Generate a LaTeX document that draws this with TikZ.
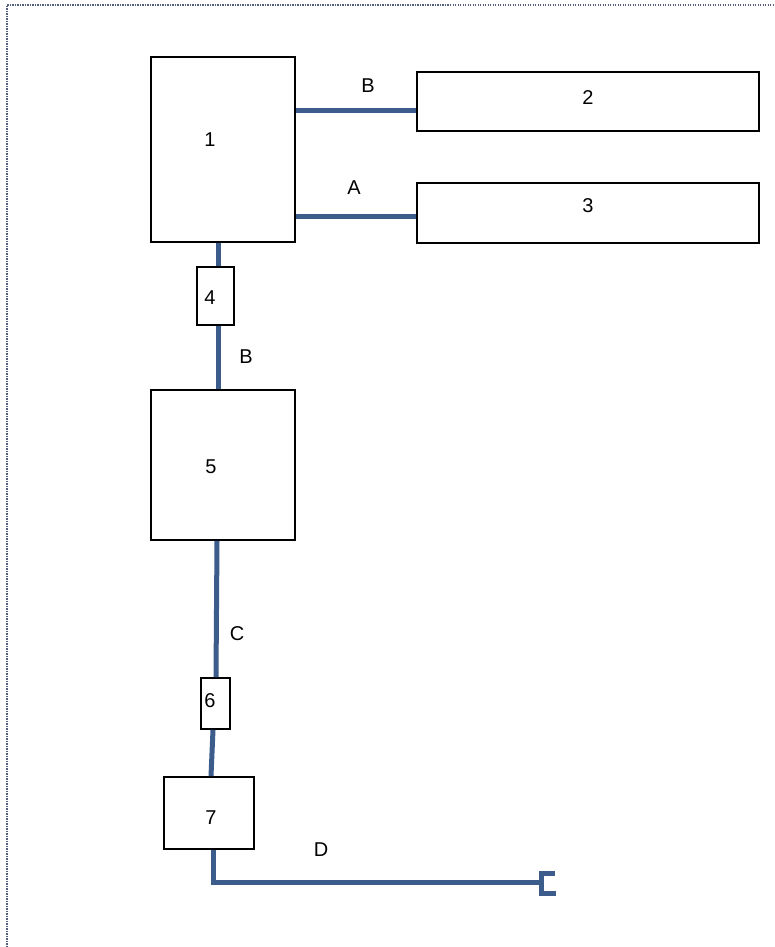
\documentclass[tikz,border=0pt]{standalone}
\usepackage{fontspec}
\setmainfont{Liberation Sans}
\usetikzlibrary{calc}
\definecolor{conn}{RGB}{60,92,140}
\definecolor{frame}{RGB}{85,95,125}
\tikzset{
  box/.style={draw=black, line width=1.8pt, fill=white, inner sep=0pt, rectangle},
  pipe/.style={draw=conn, line width=5pt},
  lbl/.style={inner sep=0pt, font=\fontsize{20}{24}\selectfont},
}
\begin{document}
\begin{tikzpicture}[x=1pt,y=-1pt]
\path[use as bounding box] (0,0) rectangle (774,947);
\draw[frame, line width=1.3pt, dash pattern=on 1.3pt off 1.2pt] (7,947) -- (7,5) -- (774,5);
% boxes
\node[box, minimum width=144pt, minimum height=185pt] (b1) at (223,149.5) {};
\node[box, minimum width=342pt, minimum height=59pt] (b2) at (588,101.5) {};
\node[box, minimum width=342pt, minimum height=60pt] (b3) at (588,213) {};
\node[box, minimum width=37pt, minimum height=58pt] (b4) at (215.5,296) {};
\node[box, minimum width=144pt, minimum height=150pt] (b5) at (223,465) {};
\node[box, minimum width=29pt, minimum height=51pt] (b6) at (215.5,703.5) {};
\node[box, minimum width=90pt, minimum height=72pt] (b7) at (209,813) {};
% connectors
\draw[pipe] (b1.east |- 0,111) -- (b2.west |- 0,111);
\draw[pipe] (b1.east |- 0,216) -- (b3.west |- 0,216);
\draw[pipe] (b1.south -| 218,0) -- (b4.north -| 218,0);
\draw[pipe] (b4.south -| 218,0) -- (b5.north -| 218,0);
\draw[pipe] (b5.south -| 217,0) -- (b6.north -| 216,0);
\draw[pipe] (b6.south -| 213,0) -- (b7.north -| 211,0);
\coordinate (endD) at (541,882);
\draw[pipe, line join=miter] (b7.south -| 213,0) -- (213,882) -- (endD);
\draw[pipe, line join=miter] (555,873) -- (541,873) -- (541,893) -- (556,893);
% labels
\node[lbl] (t1) at (210,140) {1};
\node[lbl] (t2) at (588,98) {2};
\node[lbl] (t3) at (588,206) {3};
\node[lbl] (t4) at (210,298) {4};
\node[lbl] (t5) at (211,467) {5};
\node[lbl] (t6) at (210,701) {6};
\node[lbl] (t7) at (211,818) {7};
\node[lbl] (lB1) at (368,86) {B};
\node[lbl] (lA) at (354,188) {A};
\node[lbl] (lB2) at (246,357) {B};
\node[lbl] (lC) at (237,634) {C};
\node[lbl] (lD) at (321,850) {D};
\end{tikzpicture}
\end{document}
